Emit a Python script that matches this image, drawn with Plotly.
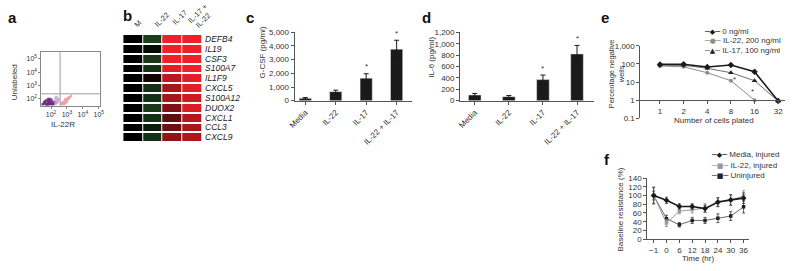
import plotly.graph_objects as go

W, H = 800, 271
def px(x): return x / W
def py(y): return 1 - y / H

FONT = "Liberation Sans, Arial, sans-serif"
TXT = "#333333"
AX = "#555555"

# ---------------- data ----------------
# a: flow cytometry events (IL-22R vs unlabeled)
a_purple_x = [30, 42, 55, 38, 65, 80, 48, 95, 70, 110, 58, 130, 85, 45, 150, 100, 62, 75, 120, 52,
              90, 170, 68, 140, 35, 105, 78, 200, 60, 88, 40, 33, 50, 72, 115, 160, 28, 44, 66, 98]
a_purple_y = [35, 45, 40, 60, 52, 38, 75, 48, 85, 42, 33, 55, 65, 50, 40, 90, 95, 44, 70, 36,
              58, 48, 62, 35, 42, 52, 100, 60, 70, 80, 55, 38, 32, 34, 36, 58, 40, 68, 45, 38]
a_lav_x = [160, 200, 240, 180, 260, 220, 300, 190, 280, 230, 210, 250]
a_lav_y = [70, 55, 90, 110, 65, 45, 80, 40, 100, 120, 140, 52]
a_pink_x = [450, 520, 600, 680, 750, 820, 900, 1000, 1100, 1250, 1400, 560, 640, 720, 850, 950,
            1050, 1200, 700, 800, 500, 620, 900, 1300, 780, 1600, 1800, 430, 980]
a_pink_y = [35, 40, 45, 50, 55, 62, 70, 78, 88, 100, 115, 55, 60, 70, 80, 90,
            105, 120, 40, 45, 50, 38, 55, 130, 95, 140, 160, 48, 65]

# b: heatmap of gene expression (relative), columns = conditions
b_genes = ["DEFB4", "IL19", "CSF3", "S100A7", "IL1F9", "CXCL5", "S100A12",
           "DUOX2", "CXCL1", "CCL3", "CXCL9"]
b_conditions = ["M", "IL-22", "IL-17", "IL-17 +", "IL-22"]   # last two lines form the 4th header
b_values = [
    [0, -0.45, 1.00, 1.00],
    [0, -0.08, 1.00, 1.00],
    [0, -0.40, 1.00, 1.00],
    [0, -0.35, 0.95, 1.00],
    [0, 0.08, 0.78, 0.95],
    [0, -0.35, 0.70, 0.95],
    [0, -0.35, 0.68, 0.85],
    [0, -0.40, 0.52, 0.90],
    [0, -0.35, 0.40, 0.75],
    [0, -0.20, 0.45, 0.70],
    [0, -0.35, 0.60, 0.72],
]

# c: G-CSF
c_cats = ["Media", "IL-22", "IL-17", "IL-22 + IL-17"]
c_vals = [170, 660, 1650, 3770]
c_err = [60, 110, 320, 650]
c_sig = [False, False, True, True]

# d: IL-6
d_cats = ["Media", "IL-22", "IL-17", "IL-22 + IL-17"]
d_vals = [100, 70, 370, 820]
d_err = [25, 20, 80, 150]
d_sig = [False, False, True, True]

# e: percentage negative wells
e_cells = ["1", "2", "4", "8", "16", "32"]
e_zero = [95, 97, 68, 88, 37, 0.9]
e_il22 = [78, 70, 33, 12, 1.0]
e_il17 = [88, 85, 58, 33, 12, 0.9]

# f: baseline resistance
f_time = ["\u22121", "0", "6", "12", "18", "24", "30", "36"]
f_media = [100, 89, 75, 75, 70, 85, 90, 94]
f_media_err = [18, 7, 6, 6, 8, 10, 12, 12]
f_il22 = [100, 37, 64, 68, 71, 84, 89, 99]
f_il22_err = [20, 8, 6, 8, 10, 10, 12, 12]
f_unin = [100, 47, 33, 43, 43, 48, 53, 74]
f_unin_err = [10, 8, 5, 7, 7, 10, 10, 14]

# ---------------- figure ----------------
fig = go.Figure()

# a
fig.add_trace(go.Scatter(x=a_purple_x, y=a_purple_y, mode="markers", xaxis="x", yaxis="y",
                         marker=dict(size=2.5, color="#6a2c80", opacity=0.8), showlegend=False))
fig.add_trace(go.Scatter(x=a_lav_x, y=a_lav_y, mode="markers", xaxis="x", yaxis="y",
                         marker=dict(size=2.5, color="#c4a6d0", opacity=0.8), showlegend=False))
fig.add_trace(go.Scatter(x=a_pink_x, y=a_pink_y, mode="markers", xaxis="x", yaxis="y",
                         marker=dict(size=2.5, color="#f0a2a2", opacity=0.85), showlegend=False))

# b
fig.add_trace(go.Heatmap(z=b_values, x=list(range(4)), y=list(range(len(b_genes))),
                         colorscale=[[0, "rgb(60,140,60)"], [0.5, "rgb(0,0,0)"], [1, "rgb(240,32,40)"]],
                         zmin=-1, zmax=1, showscale=False, xgap=1, ygap=2,
                         xaxis="x2", yaxis="y2", hoverinfo="skip"))

# c
fig.add_trace(go.Bar(x=list(range(len(c_cats))), y=c_vals, width=0.4, marker_color="#1a1a1a",
                     error_y=dict(type="data", array=c_err, color="#1a1a1a", thickness=1, width=2.5),
                     xaxis="x3", yaxis="y3", showlegend=False))
# d
fig.add_trace(go.Bar(x=list(range(len(d_cats))), y=d_vals, width=0.37, marker_color="#1a1a1a",
                     error_y=dict(type="data", array=d_err, color="#1a1a1a", thickness=1, width=2.5),
                     xaxis="x4", yaxis="y4", showlegend=False))

# e
fig.add_trace(go.Scatter(x=list(range(len(e_il22))), y=e_il22, mode="lines+markers", xaxis="x5", yaxis="y5",
                         line=dict(color="#8c8c8c", width=1), marker=dict(symbol="circle", size=4, color="#8c8c8c"),
                         showlegend=False))
fig.add_trace(go.Scatter(x=list(range(len(e_il17))), y=e_il17, mode="lines+markers", xaxis="x5", yaxis="y5",
                         line=dict(color="#6e6e6e", width=1), marker=dict(symbol="triangle-up", size=5, color="#222"),
                         showlegend=False))
fig.add_trace(go.Scatter(x=list(range(len(e_zero))), y=e_zero, mode="lines+markers", xaxis="x5", yaxis="y5",
                         line=dict(color="#1a1a1a", width=1.6), marker=dict(symbol="diamond", size=5, color="#1a1a1a"),
                         showlegend=False))

# f
fig.add_trace(go.Scatter(x=list(range(len(f_unin))), y=f_unin, mode="lines+markers", xaxis="x6", yaxis="y6",
                         line=dict(color="#6a6a6a", width=1), marker=dict(symbol="square", size=3.5, color="#222"),
                         error_y=dict(type="data", array=f_unin_err, color="#333", thickness=0.8, width=1.5),
                         showlegend=False))
fig.add_trace(go.Scatter(x=list(range(len(f_il22))), y=f_il22, mode="lines+markers", xaxis="x6", yaxis="y6",
                         line=dict(color="#9a9a9a", width=1), marker=dict(symbol="square", size=3.5, color="#9a9a9a"),
                         error_y=dict(type="data", array=f_il22_err, color="#888", thickness=0.8, width=1.5),
                         showlegend=False))
fig.add_trace(go.Scatter(x=list(range(len(f_media))), y=f_media, mode="lines+markers", xaxis="x6", yaxis="y6",
                         line=dict(color="#1a1a1a", width=1.6), marker=dict(symbol="diamond", size=4.5, color="#1a1a1a"),
                         error_y=dict(type="data", array=f_media_err, color="#333", thickness=0.8, width=1.5),
                         showlegend=False))

tickfont = dict(family=FONT, size=8, color=TXT)
common = dict(showgrid=False, zeroline=False, showline=True, linecolor=AX, linewidth=1,
              ticks="outside", ticklen=3, tickcolor=AX, tickfont=tickfont)

HM_L, HM_R = 118, 198  # heatmap pixel extent (layout)

layout_axes = dict(
    xaxis=dict(domain=[px(35), px(94)], type="log", range=[1.4, 5.05], anchor="y",
               showgrid=False, zeroline=False, showline=True, mirror=True, linecolor="#888", linewidth=1,
               ticks="outside", ticklen=2, tickcolor="#888",
               tickvals=[1e2, 1e3, 1e4, 1e5],
               ticktext=["10<sup>2</sup>", "10<sup>3</sup>", "10<sup>4</sup>", "10<sup>5</sup>"],
               tickfont=dict(family=FONT, size=7, color=TXT)),
    yaxis=dict(domain=[py(105), py(50)], type="log", range=[1.49, 5.5], anchor="x",
               showgrid=False, zeroline=False, showline=True, mirror=True, linecolor="#888", linewidth=1,
               ticks="outside", ticklen=2, tickcolor="#888",
               tickvals=[1e2, 1e3, 1e4, 1e5],
               ticktext=["10<sup>2</sup>", "10<sup>3</sup>", "10<sup>4</sup>", "10<sup>5</sup>"],
               tickfont=dict(family=FONT, size=7, color=TXT)),
    xaxis2=dict(domain=[px(HM_L), px(HM_R)], range=[-0.5, 3.5], anchor="y2",
                showgrid=False, zeroline=False, showline=False, showticklabels=False, ticks=""),
    yaxis2=dict(domain=[py(143), py(31)], range=[10.5, -0.5], anchor="x2", side="right",
                showgrid=False, zeroline=False, showline=False, ticks="",
                tickvals=list(range(len(b_genes))), ticktext=["<i>%s</i>" % g for g in b_genes],
                tickfont=dict(family=FONT, size=8.5, color="#222"), ticklabelstandoff=2),
    xaxis3=dict(domain=[px(292), px(411)], range=[-0.35, 3.5], anchor="y3",
                tickvals=list(range(len(c_cats))), ticktext=c_cats, tickangle=-45, **common),
    yaxis3=dict(domain=[py(100), py(29.3)], range=[0, 5000], anchor="x3",
                tickvals=[0, 1000, 2000, 3000, 4000, 5000], tickformat=",", **common),
    xaxis4=dict(domain=[px(460), px(596)], range=[-0.43, 3.5], anchor="y4",
                tickvals=list(range(len(d_cats))), ticktext=d_cats, tickangle=-45, **common),
    yaxis4=dict(domain=[py(100), py(29.3)], range=[0, 1200], anchor="x4",
                tickvals=[0, 200, 400, 600, 800, 1000, 1200], tickformat=",", **common),
    xaxis5=dict(domain=[px(643), px(790)], range=[-0.83, 5.295], anchor="free", position=py(99.3),
                tickvals=list(range(len(e_cells))), ticktext=e_cells, **common),
    yaxis5=dict(domain=[py(118.3), py(43.3)], type="log", range=[-1, 3], anchor="x5",
                tickvals=[0.1, 1, 10, 100, 1000], ticktext=["0.1", "1", "10", "100", "1,000"], **common),
    xaxis6=dict(domain=[px(650), px(753)], range=[-0.5, 7.4], anchor="y6",
                tickvals=list(range(len(f_time))), ticktext=f_time, **common),
    yaxis6=dict(domain=[py(243.3), py(180)], range=[0, 140], anchor="x6",
                tickvals=list(range(0, 141, 20)), **common),
)

ann = []
def label(txt, x, y, size=8, angle=0, bold=False, xanchor="center", yanchor="middle", color=TXT):
    ann.append(dict(text=("<b>%s</b>" % txt) if bold else txt, x=px(x), y=py(y), xref="paper", yref="paper",
                    showarrow=False, textangle=angle, xanchor=xanchor, yanchor=yanchor,
                    font=dict(family=FONT, size=size, color=color)))

# panel letters
for t, x, y in [("a", 6, 14), ("b", 122, 12), ("c", 247, 14), ("d", 426, 14), ("e", 607, 14), ("f", 609, 161)]:
    label(t, x, y, size=15, bold=True, color="#111")

# axis titles
label("IL-22R", 57, 125, size=8)
label("Unlabeled", 7, 81, size=8, angle=-90)
label("G-CSF (pg/ml)", 259, 50, size=8, angle=-90)
label("IL-6 (pg/ml)", 431, 55, size=8, angle=-90)
label("Percentage negative<br>wells", 619, 72, size=7.5, angle=-90)
label("Number of cells plated", 718, 121, size=8)
label("Baseline resistance (%)", 623, 213, size=8, angle=-90)
label("Time (hr)", 702, 263, size=8)

# heatmap column headers (rotated; bottom-left corner of each text box)
hdr_pos = [(125, 29), (145, 28), (163, 26), (179, 25), (187, 30)]
for cond, (hx, hy) in zip(b_conditions, hdr_pos):
    ann.append(dict(text=cond, x=px(hx), y=py(hy), xref="paper", yref="paper",
                    showarrow=False, textangle=-45, xanchor="left", yanchor="bottom",
                    font=dict(family=FONT, size=7.5, color=TXT)))

# significance stars
for i, s in enumerate(c_sig):
    if s:
        ann.append(dict(text="*", x=i, y=c_vals[i] + c_err[i], xref="x3", yref="y3", showarrow=False,
                        yshift=7, font=dict(family=FONT, size=8, color=TXT)))
for i, s in enumerate(d_sig):
    if s:
        ann.append(dict(text="*", x=i, y=d_vals[i] + d_err[i], xref="x4", yref="y4", showarrow=False,
                        yshift=7, font=dict(family=FONT, size=8, color=TXT)))
ann.append(dict(text="*", x=3.17, y=1.12, xref="x5", yref="y5", showarrow=False,
                font=dict(family=FONT, size=8, color=TXT)))
ann.append(dict(text="*", x=3.9, y=0.5, xref="x5", yref="y5", showarrow=False,
                font=dict(family=FONT, size=8, color=TXT)))

# legends (glyph-based)
def leg(x, y, line_col, mark, mark_col, txt):
    t = ("<span style='color:%s;font-family:DejaVu Sans'>\u2500</span>"
         "<span style='color:%s;font-family:DejaVu Sans;font-size:7px'>%s</span>"
         "<span style='color:%s;font-family:DejaVu Sans'>\u2500</span> %s") % (line_col, mark_col, mark, line_col, txt)
    ann.append(dict(text=t, x=px(x), y=py(y), xref="paper", yref="paper", showarrow=False,
                    xanchor="left", yanchor="middle", font=dict(family=FONT, size=8, color=TXT)))

leg(706, 28, "#1a1a1a", "\u25c6", "#1a1a1a", "0 ng/ml")
leg(706, 38, "#8c8c8c", "\u25cf", "#8c8c8c", "IL-22, 200 ng/ml")
leg(706, 48, "#6e6e6e", "\u25b2", "#222", "IL-17, 100 ng/ml")
leg(713, 156, "#1a1a1a", "\u25c6", "#1a1a1a", "Media, injured")
leg(713, 167, "#9a9a9a", "\u25a0", "#9a9a9a", "IL-22, injured")
leg(713, 177, "#333", "\u25a0", "#222", "Uninjured")

# gate lines in panel a
shapes = [
    dict(type="line", xref="x", yref="y domain", x0=10**2.57, x1=10**2.57, y0=0, y1=1,
         line=dict(color="#999", width=1)),
    dict(type="line", xref="x domain", yref="y", x0=0, x1=1, y0=10**2.37, y1=10**2.37,
         line=dict(color="#999", width=1)),
]

fig.update_layout(
    width=W, height=H, margin=dict(l=0, r=0, t=0, b=0),
    paper_bgcolor="white", plot_bgcolor="white",
    showlegend=False, annotations=ann, shapes=shapes,
    font=dict(family=FONT, size=8, color=TXT),
    **layout_axes,
)

fig.write_html("out.html")
